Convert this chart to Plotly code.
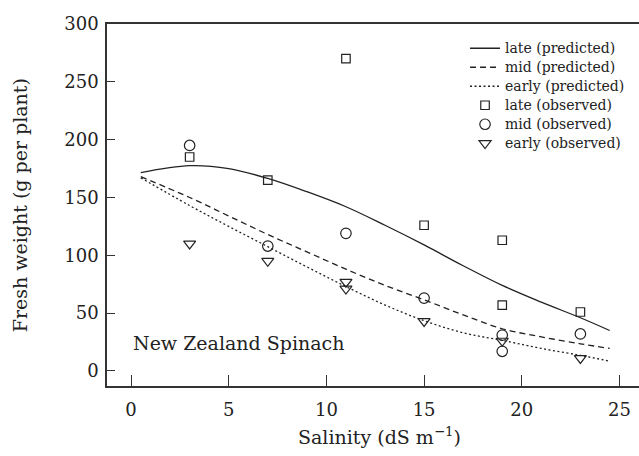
import plotly.graph_objects as go

# Predicted curves
x_pred = [0.5, 3, 5, 7, 9, 11, 13, 15, 17, 19, 21, 23, 24.5]
late_pred = [171.5, 177.5, 175, 166.5, 155, 142, 126, 109, 91, 74, 59.5, 46, 35]
mid_pred = [168, 150, 134, 118, 103, 88, 74, 61.5, 48.5, 36.5, 29.5, 23.5, 19.5]
early_pred = [167, 143, 125, 107.5, 90, 73, 57, 43.5, 33, 26.5, 19.5, 13.5, 8.5]

# Observed values
x_late_obs = [3, 7, 11, 15, 19, 19, 23]
late_obs = [185, 165, 270, 126, 113, 57, 51]
x_mid_obs = [3, 7, 11, 15, 19, 19, 23]
mid_obs = [195, 108, 119, 63, 31, 17, 32]
x_early_obs = [3, 7, 11, 11, 15, 19, 23]
early_obs = [110, 95, 77, 71, 43, 26, 11]

x_ticks = [0, 5, 10, 15, 20, 25]
y_ticks = [0, 50, 100, 150, 200, 250, 300]

FONT = "DejaVu Serif"
INK = "#222222"


def lg(name):
    return "<span style='font-size:14px'>" + name + "</span>"


fig = go.Figure()
fig.add_trace(go.Scatter(x=x_pred, y=late_pred, mode="lines", name=lg("late (predicted)"),
                         line=dict(color=INK, width=1.3, shape="spline")))
fig.add_trace(go.Scatter(x=x_pred, y=mid_pred, mode="lines", name=lg("mid (predicted)"),
                         line=dict(color=INK, width=1.3, shape="spline", dash="6px,4px")))
fig.add_trace(go.Scatter(x=x_pred, y=early_pred, mode="lines", name=lg("early (predicted)"),
                         line=dict(color=INK, width=1.3, shape="spline", dash="2px,2.5px")))
fig.add_trace(go.Scatter(x=x_late_obs, y=late_obs, mode="markers", name=lg("late (observed)"),
                         marker=dict(symbol="square-open", size=8.5, color=INK, line=dict(width=1.2, color=INK))))
fig.add_trace(go.Scatter(x=x_mid_obs, y=mid_obs, mode="markers", name=lg("mid (observed)"),
                         marker=dict(symbol="circle-open", size=10.5, color=INK, line=dict(width=1.2, color=INK))))
fig.add_trace(go.Scatter(x=x_early_obs, y=early_obs, mode="markers", name=lg("early (observed)"),
                         marker=dict(symbol="triangle-down-open", size=10.5, color=INK, line=dict(width=1.2, color=INK))))

fig.add_annotation(x=0, y=24, xref="x", yref="y", text="New Zealand Spinach", showarrow=False,
                   xanchor="left", yanchor="middle", font=dict(family=FONT, size=19, color=INK))
fig.add_annotation(x=0.513, y=-0.139, xref="paper", yref="paper", text="Salinity (dS m<sup>−1</sup>)",
                   showarrow=False, xanchor="center", yanchor="middle",
                   font=dict(family=FONT, size=19, color=INK))
fig.add_annotation(x=-0.163, y=0.5, xref="paper", yref="paper", text="Fresh weight (g per plant)",
                   showarrow=False, xanchor="center", yanchor="middle", textangle=-90,
                   font=dict(family=FONT, size=19, color=INK))

fig.update_layout(
    width=639, height=456,
    margin=dict(l=107, r=0, t=24, b=70),
    paper_bgcolor="white", plot_bgcolor="white",
    font=dict(family=FONT, size=18, color=INK),
    showlegend=True,
    legend=dict(x=0.673, y=0.973, xanchor="left", yanchor="top", bgcolor="rgba(0,0,0,0)",
                font=dict(family=FONT, size=11.2, color=INK), tracegroupgap=0),
    xaxis=dict(range=[-1.23, 26.0], tickvals=x_ticks, ticks="inside", ticklen=11, tickwidth=1.3,
               tickcolor="#333333", showline=True, linecolor="#333333", linewidth=1.5, mirror=True,
               showgrid=False, zeroline=False, ticklabelstandoff=7),
    yaxis=dict(range=[-13, 300], tickvals=y_ticks, ticks="inside", ticklen=8, tickwidth=1.3,
               tickcolor="#333333", showline=True, linecolor="#333333", linewidth=1.5,
               showgrid=False, zeroline=False, ticklabelstandoff=3),
)

fig.write_html("out.html", config={"displayModeBar": False},
               post_script="document.body.style.margin='0';document.body.style.padding='0';")
